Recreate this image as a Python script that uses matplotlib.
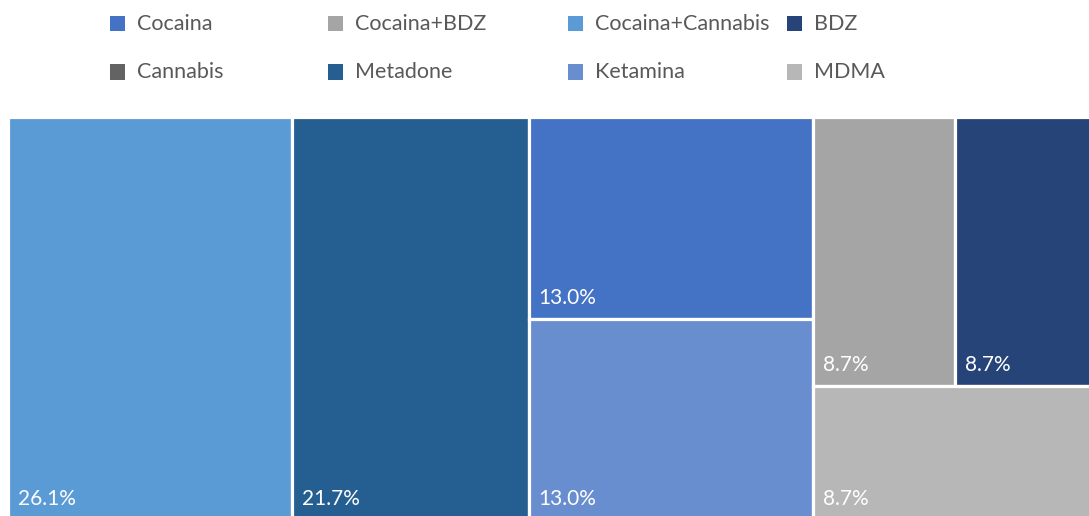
import matplotlib
matplotlib.use('Agg')
import matplotlib.pyplot as plt
from matplotlib.patches import Rectangle

plt.rcParams['font.family'] = ['Lato', 'DejaVu Sans']

# data (number of cases per substance)
categories = ['Cocaina', 'Cocaina+BDZ', 'Cocaina+Cannabis', 'BDZ',
              'Cannabis', 'Metadone', 'Ketamina', 'MDMA']
values = [3, 2, 6, 2, 0, 5, 3, 2]
colors = ['#4472C4', '#A5A5A5', '#5B9BD5', '#264478',
          '#636363', '#255E91', '#698ED0', '#B7B7B7']
# treemap arrangement: columns -> rows -> cells
layout = [[['Cocaina+Cannabis']],
          [['Metadone']],
          [['Cocaina'], ['Ketamina']],
          [['Cocaina+BDZ', 'BDZ'], ['MDMA']]]

val = dict(zip(categories, values))
col = dict(zip(categories, colors))

W, H = 1089, 516
fig = plt.figure(figsize=(W / 100, H / 100), dpi=100)
# plot area runs a little past the right and bottom edges (cropped)
ax = fig.add_axes([8 / W, -4 / H, (1097 - 8) / W, (520 - 117) / H])

total = sum(values)
x = 0.0
for column in layout:
    csum = sum(val[n] for row in column for n in row)
    w = csum / total
    y = 1.0
    for row in column:
        rsum = sum(val[n] for n in row)
        h = rsum / csum
        y -= h
        cx = x
        for n in row:
            cw = w * val[n] / rsum
            ax.add_patch(Rectangle((cx, y), cw, h, facecolor=col[n],
                                   edgecolor='white', linewidth=2.3))
            ax.text(cx + 0.009, y + 0.037, f'{val[n] / total * 100:.1f}%',
                    color='white', fontsize=15, ha='left', va='baseline')
            cx += cw
    x += w

ax.set_xlim(0, 1)
ax.set_ylim(0, 1)
ax.axis('off')

# legend, 4 columns x 2 rows
leg_x = [110, 328, 568, 787]
leg_y = [23.5, 72]
for i, (name, c) in enumerate(zip(categories, colors)):
    px = leg_x[i % 4]
    py = leg_y[i // 4]
    fig.patches.append(Rectangle((px / W, 1 - (py + 7.5) / H), 15 / W, 15 / H,
                                 facecolor=c, edgecolor='none',
                                 transform=fig.transFigure))
    fig.text((px + 27) / W, 1 - py / H, name, color='#595959',
             fontsize=15.5, ha='left', va='center')

fig.savefig('out.png', dpi=100)
